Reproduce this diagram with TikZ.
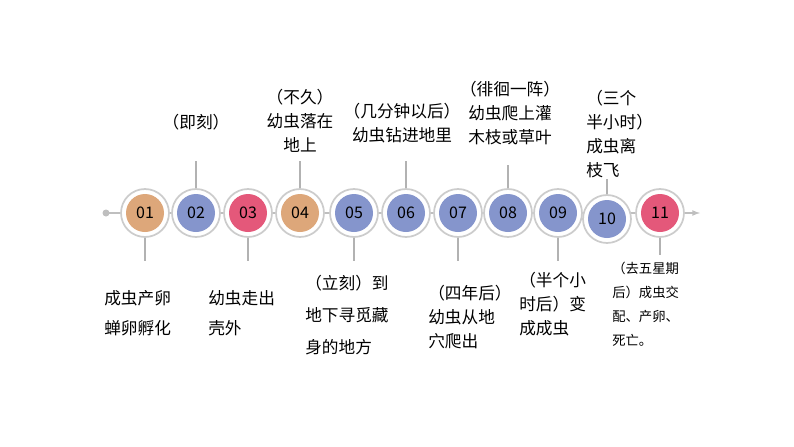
\documentclass[tikz,border=0pt]{standalone}
\usepackage{fontspec}
\setmainfont{Noto Sans CJK SC}
\begin{document}
\begin{tikzpicture}[x=0.75pt,y=-0.75pt,
  ring/.style={circle,draw=gray!45,line width=1.2pt,fill=white,minimum size=48\pgflinewidth,inner sep=0pt},
  dot/.style={circle,minimum size=28.5pt,inner sep=0pt,font=\fontsize{12}{12}\selectfont},
  lbl/.style={align=left,font=\fontsize{12.5}{18}\selectfont,inner sep=0pt},
  tick/.style={draw=gray!60,line width=0.8pt}]
\useasboundingbox (0,0) rectangle (794,447);
\definecolor{cor}{HTML}{DDA77A}\definecolor{cbl}{HTML}{8595CC}\definecolor{cre}{HTML}{E4587A}
\coordinate (s) at (106,213); \coordinate (e) at (700,213);
\fill[gray!50] (s) circle (3.5);
\draw[gray!50,line width=1pt,-latex] (s) -- (e);
\foreach \n/\x/\y/\c in {01/145/213/cor,02/196/213/cbl,03/248/213/cre,04/300/213/cor,05/354/213/cbl,06/406/213/cbl,07/458/213/cbl,08/508/213/cbl,09/558/213/cbl,10/607/219/cbl,11/660/213/cre}{
  \node[circle,draw=gray!40,line width=1.3pt,fill=white,minimum size=36pt,inner sep=0pt] (r\n) at (\x,\y) {};
  \node[dot,fill=\c] (c\n) at (\x,\y) {\n};
}
\foreach \n in {02,04,06}{\coordinate (t\n) at ([yshift=20pt]r\n.north); \draw[tick] (r\n.north) -- (t\n);}
\coordinate (t08) at ([yshift=17pt]r08.north); \draw[tick] (r08.north) -- (t08);
\coordinate (t10) at ([yshift=11pt]r10.north); \draw[tick] (r10.north) -- (t10);
\foreach \n in {01,03,05,07,09}{\coordinate (b\n) at ([yshift=-17pt]r\n.south); \draw[tick] (r\n.south) -- (b\n);}
\coordinate (b11) at ([yshift=-13pt]r11.south); \draw[tick] (r11.south) -- (b11);
\node[lbl,align=center] (l02) at (196,122) {（即刻）};
\node[lbl,align=center] (l04) at (300,121) {（不久）\\幼虫落在\\地上};
\node[lbl,align=center] (l06) at (402,123) {（几分钟以后）\\幼虫钻进地里};
\node[lbl,align=center] (l08) at (510,113) {（徘徊一阵）\\幼虫爬上灌\\木枝或草叶};
\node[lbl,anchor=west] (l10) at (586,134) {（三个\\半小时）\\成虫离\\枝飞};
\node[lbl,anchor=west,font=\fontsize{12.5}{22.5}\selectfont] (l01) at (104,313) {成虫产卵\\蝉卵孵化};
\node[lbl,anchor=west,font=\fontsize{12.5}{22.5}\selectfont] (l03) at (208,313) {幼虫走出\\壳外};
\node[lbl,anchor=west,font=\fontsize{12.5}{24}\selectfont] (l05) at (305,315) {（立刻）到\\地下寻觅藏\\身的地方};
\node[lbl,anchor=west] (l07) at (428,317) {（四年后）\\幼虫从地\\穴爬出};
\node[lbl,anchor=west] (l09) at (519,304) {（半个小\\时后）变\\成成虫};
\node[lbl,anchor=west,font=\fontsize{10}{18}\selectfont] (l11) at (612,304) {（去五星期\\后）成虫交\\配、产卵、\\死亡。};
\end{tikzpicture}
\end{document}
